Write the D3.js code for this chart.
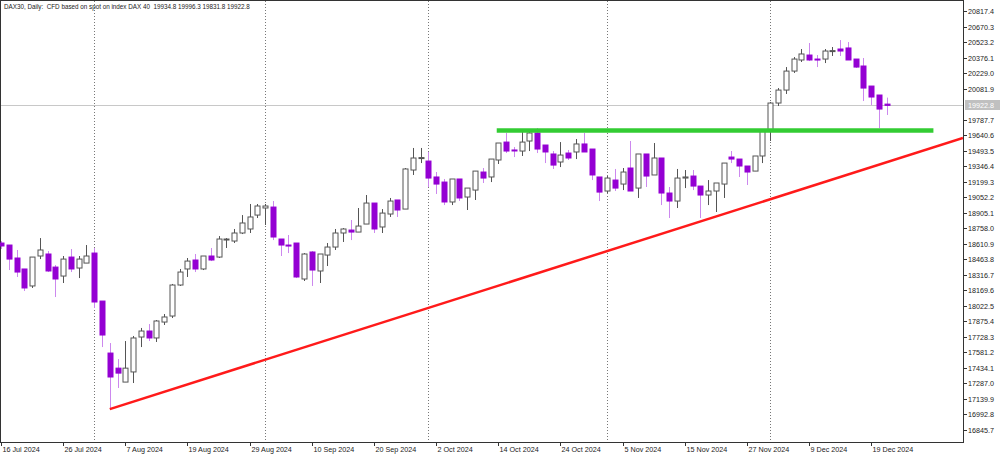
<!DOCTYPE html>
<html><head><meta charset="utf-8">
<script src="https://cdnjs.cloudflare.com/ajax/libs/d3/7.8.5/d3.min.js"></script>
<style>body{margin:0;background:#fff}svg{display:block}text{font-family:"Liberation Sans",Arial,sans-serif}</style>
</head><body><svg id="c" width="1000" height="456"></svg>
<script>
const title = "DAX30, Daily:  CFD based on spot on index DAX 40  19934.8 19996.3 19831.8 19922.8";
const opens = [18618,18599,18476,18372,18211,18495,18514,18390,18305,18485,18381,18428,18523,18068,17575,17432,17300,17396,17727,17784,17718,17869,17926,18220,18372,18457,18372,18495,18485,18651,18637,18713,18751,18883,18950,18959,18656,18599,18618,18277,18533,18353,18504,18580,18713,18741,18722,18798,18997,18770,18893,19026,18940,19310,19424,19395,19244,19196,19007,19225,19054,19120,19291,19244,19405,19575,19500,19490,19585,19661,19547,19462,19386,19471,19481,19557,19509,19244,19111,19215,19177,19329,19139,19462,19263,19424,19092,19016,19234,19253,19158,19073,19111,19177,19433,19414,19348,19300,19443,19689,19945,20068,20248,20353,20400,20362,20362,20438,20457,20467,20362,20296,20106,20021,19934.8];
const highs = [18637,18599,18552,18372,18485,18665,18542,18409,18495,18561,18495,18599,18570,18068,17670,17518,17689,17737,17813,17850,17888,17945,18230,18372,18476,18514,18495,18571,18684,18665,18751,18883,18988,18988,18988,19016,18656,18694,18618,18523,18542,18514,18618,18751,18760,18836,18950,19073,18997,18940,19045,19026,19329,19519,19519,19481,19291,19225,19225,19225,19139,19301,19329,19414,19566,19661,19528,19670,19689,19708,19547,19490,19575,19500,19604,19661,19509,19244,19253,19320,19329,19585,19462,19462,19566,19424,19149,19320,19310,19310,19158,19215,19187,19376,19490,19414,19348,19443,19699,19955,20087,20286,20381,20457,20514,20400,20457,20476,20542,20523,20362,20372,20106,20021,19996.3];
const lows = [18561,18362,18296,18163,18192,18466,18343,18106,18239,18343,18286,18428,18002,17632,17044,17244,17300,17291,17632,17689,17680,17841,17907,18211,18296,18343,18362,18447,18476,18571,18618,18703,18713,18855,18789,18646,18495,18523,18286,18258,18211,18239,18400,18552,18628,18646,18722,18798,18713,18713,18865,18865,18940,19263,19376,19149,19083,18978,18978,19017,18931,19026,19187,19196,19367,19471,19433,19443,19490,19471,19376,19320,19338,19405,19414,19481,19215,19016,19092,19111,19120,19111,19045,19149,19263,18978,18855,18950,19139,19120,18855,18978,18912,19045,19376,19244,19168,19300,19376,19585,19917,20031,20230,20334,20343,20286,20324,20391,20391,20353,20277,19964,19926,19708,19831.8];
const closes = [18590,18466,18343,18192,18485,18552,18353,18277,18466,18372,18466,18495,18059,17746,17348,17385,17432,17718,17784,17718,17879,17917,18220,18343,18447,18372,18495,18457,18656,18656,18713,18808,18865,18969,18969,18675,18599,18597,18296,18514,18362,18514,18580,18713,18751,18722,18779,18997,18751,18902,19016,18931,19320,19424,19428,19234,19177,19007,19225,19045,19139,19300,19234,19414,19566,19490,19497,19575,19661,19509,19481,19357,19452,19424,19557,19481,19263,19101,19234,19139,19291,19111,19462,19253,19424,19092,19016,19234,19244,19158,19073,19111,19187,19376,19414,19348,19291,19443,19689,19945,20068,20248,20362,20410,20353,20353,20438,20442,20438,20353,20286,20087,20002,19888,19922.8];
const priceTicks = ["20817.4","20670.3","20523.2","20376.1","20229.0","20081.9","19787.7","19640.6","19493.5","19346.4","19199.3","19052.2","18905.1","18758.0","18610.9","18463.8","18316.7","18169.6","18022.5","17875.4","17728.3","17581.2","17434.1","17287.0","17139.9","16992.8","16845.7"];
const dateLabels = ["16 Jul 2024","26 Jul 2024","7 Aug 2024","19 Aug 2024","29 Aug 2024","10 Sep 2024","20 Sep 2024","2 Oct 2024","14 Oct 2024","24 Oct 2024","5 Nov 2024","15 Nov 2024","27 Nov 2024","9 Dec 2024","19 Dec 2024"];
const dateIdx = [0,8,16,24,32,40,48,56,64,72,80,88,96,104,112];
const monthStarts = [12,34,55,78,99];
const supportLevel = 19684; const supportFrom = 63.8; const supportTo = 120;
const trendFrom = [14, 17044]; const trendTo = [123.8, 19613];
const lastPrice = 19922.8;

const svg = d3.select("#c");
const W=963, B=442;
const x = d3.scaleLinear().domain([0,114]).range([1,886.8]);
const y = d3.scaleLinear().domain([16845.7,20817.4]).range([430,11]);

svg.append("rect").attr("x",0.5).attr("y",0.5).attr("width",W).attr("height",B).attr("fill","none").attr("stroke","#333");
const g = svg.append("g");
g.selectAll(".sep").data(monthStarts).join("line").attr("x1",d=>Math.round(x(d))+0.5).attr("x2",d=>Math.round(x(d))+0.5)
 .attr("y1",1).attr("y2",B).attr("stroke","#777").attr("stroke-dasharray","1,2");
g.append("line").attr("x1",1).attr("x2",W).attr("y1",Math.round(y(lastPrice))+0.5).attr("y2",Math.round(y(lastPrice))+0.5).attr("stroke","#c8c8c8");

const data = opens.map((o,i)=>({i,o,h:highs[i],l:lows[i],c:closes[i]}));
const cg = g.selectAll(".c").data(data).join("g");
cg.append("line").attr("x1",d=>Math.round(x(d.i))+0.5).attr("x2",d=>Math.round(x(d.i))+0.5)
 .attr("y1",d=>y(d.h)).attr("y2",d=>y(d.l)).attr("stroke",d=>d.c>=d.o?"#555":"#cc88ee");
cg.append("rect").attr("x",d=>Math.round(x(d.i))-2).attr("width",5)
 .attr("y",d=>y(Math.max(d.o,d.c))).attr("height",d=>Math.max(1,Math.abs(y(d.o)-y(d.c))))
 .attr("fill",d=>d.c>=d.o?"#fff":"#9400d3").attr("stroke",d=>d.c>=d.o?"#555":"#9400d3").attr("stroke-width",1);

svg.append("clipPath").attr("id","pc").append("rect").attr("x",1).attr("y",1).attr("width",W-1).attr("height",B-1);
g.append("line").attr("clip-path","url(#pc)").attr("x1",x(trendFrom[0])).attr("y1",y(trendFrom[1])).attr("x2",x(trendTo[0])).attr("y2",y(trendTo[1]))
 .attr("stroke","#ff1a1a").attr("stroke-width",2.5);
g.append("line").attr("x1",x(supportFrom)).attr("x2",x(supportTo)).attr("y1",y(supportLevel)).attr("y2",y(supportLevel))
 .attr("stroke","#33cc33").attr("stroke-width",4.5);

svg.append("text").attr("x",4).attr("y",9).attr("font-size",6.3).attr("fill","#222").attr("xml:space","preserve").text(title);

const pa = svg.append("g");
priceTicks.forEach(t=>{const yy=Math.round(y(+t))+0.5;
 pa.append("line").attr("x1",W).attr("x2",W+4).attr("y1",yy).attr("y2",yy).attr("stroke","#333");
 pa.append("text").attr("x",W+5).attr("y",yy+2.5).attr("font-size",7.2).attr("fill","#222").text(t);});
const ly=Math.round(y(lastPrice));
pa.append("rect").attr("x",W+2).attr("y",ly-5).attr("width",35).attr("height",10).attr("fill","#c0c0c0");
pa.append("text").attr("x",W+5).attr("y",ly+2.5).attr("font-size",7.2).attr("fill","#fff").text(lastPrice.toFixed(1));

dateLabels.forEach((t,k)=>{const xx=Math.round(x(dateIdx[k]))+0.5;
 pa.append("line").attr("x1",xx).attr("x2",xx).attr("y1",B).attr("y2",B+4).attr("stroke","#333");
 pa.append("text").attr("x",xx+1).attr("y",B+10).attr("font-size",7.2).attr("fill","#222").text(t);});
</script></body></html>
